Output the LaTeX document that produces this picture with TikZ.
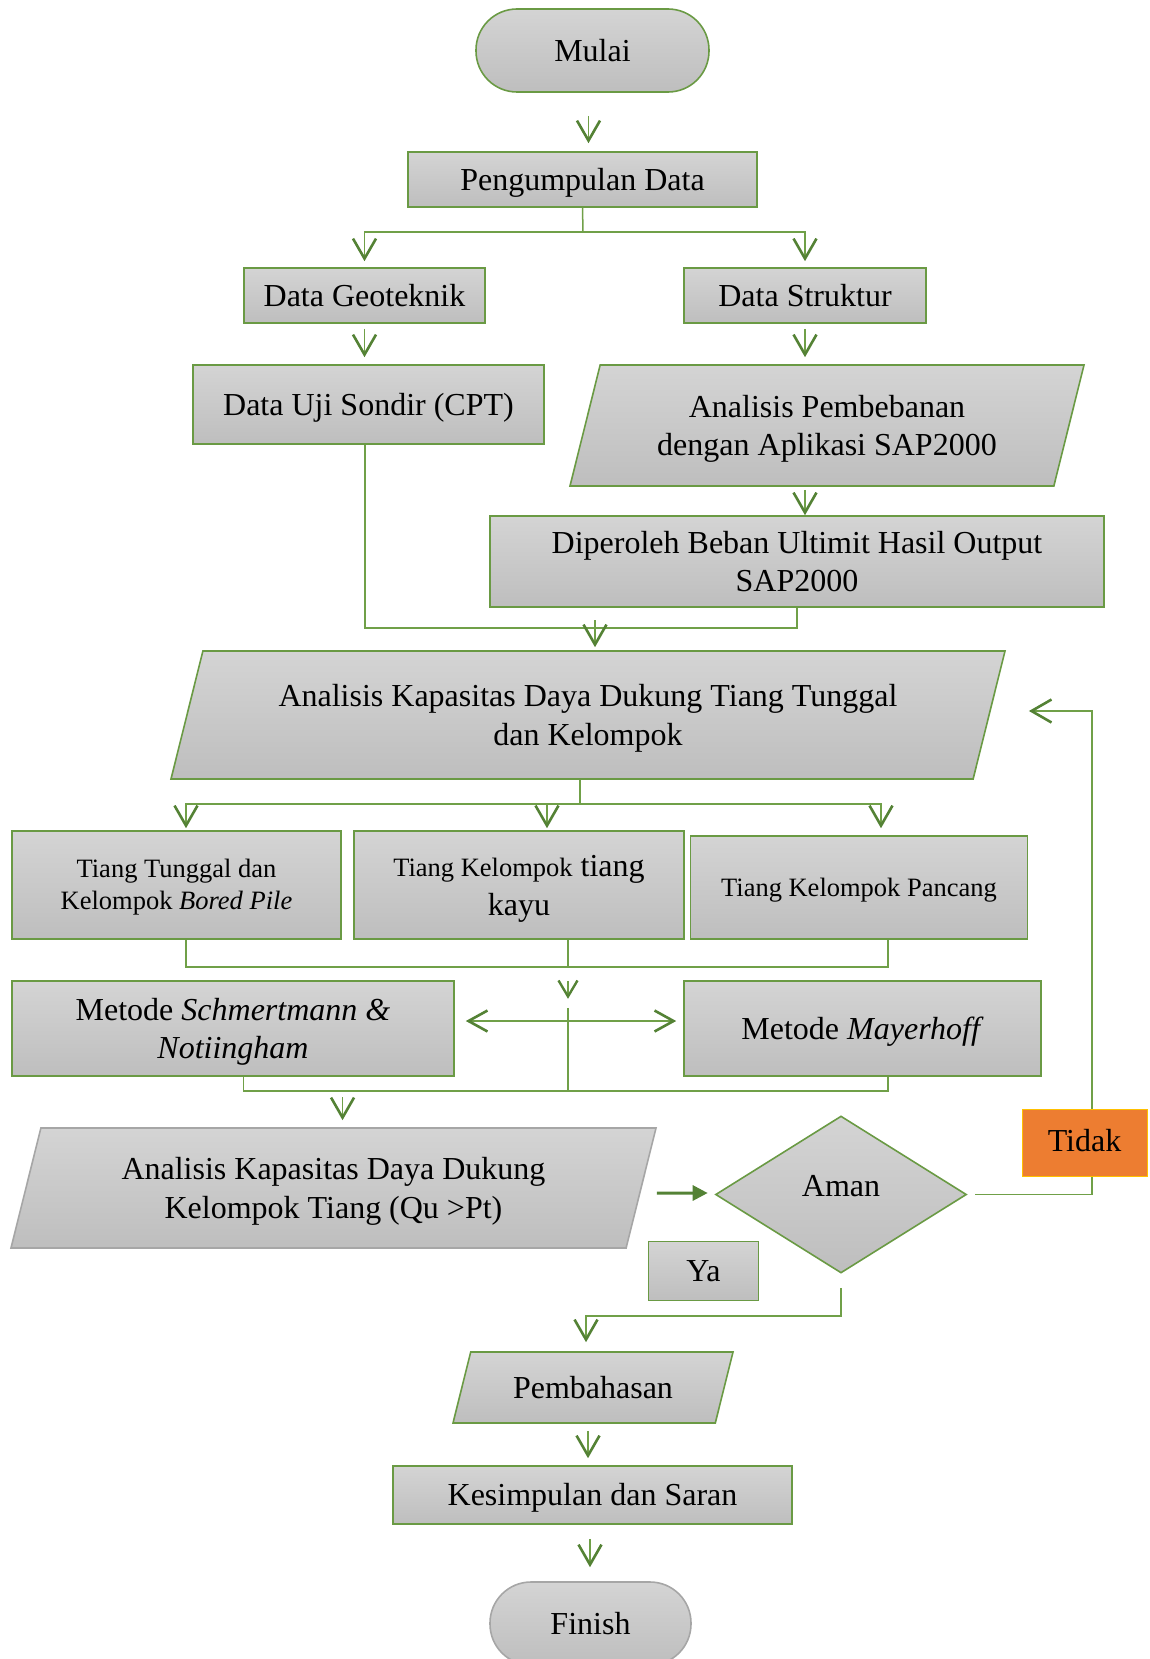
\documentclass[tikz,border=0pt]{standalone}
\usepackage{fontspec}
\setmainfont{Liberation Serif}
\usepackage{tikz}
\usetikzlibrary{arrows.meta,shapes.geometric}

\definecolor{boxline}{HTML}{6A9A44}
\definecolor{linkline}{HTML}{70A048}
\definecolor{arrowgreen}{HTML}{548235}
\definecolor{shadetop}{HTML}{D4D4D4}
\definecolor{shadebot}{HTML}{BEBEBE}
\definecolor{greyline}{HTML}{A6A6A6}
\definecolor{tidakfill}{HTML}{ED7D31}
\definecolor{tidakline}{HTML}{FFC000}

\newcommand{\bigtext}{\fontsize{32}{38.5}\selectfont}
\newcommand{\smalltext}{\fontsize{26.5}{32}\selectfont}
\newcommand{\wordstrut}{\rule[-0.216em]{0pt}{1.107em}}

\tikzset{
  box/.style={rectangle, draw=boxline, line width=1.6pt, top color=shadetop, bottom color=shadebot, inner sep=0pt, align=center, font=\bigtext,
    execute at begin node=\wordstrut, execute at end node=\wordstrut},
  term/.style={box, rounded corners=41pt},
  para/.style={box, trapezium, trapezium left angle=76, trapezium right angle=104, trapezium stretches body},
  decide/.style={box, diamond, aspect=1.6},
  tidak/.style={rectangle, draw=tidakline, line width=1pt, fill=tidakfill, inner sep=0pt, font=\bigtext},
  link/.style={draw=linkline, line width=1.5pt},
  arr/.style={link, -{Straight Barb[length=20pt,width=23pt,line width=2.6pt,color=arrowgreen]}},
  arrsmall/.style={link, -{Straight Barb[length=16pt,width=19pt,line width=2.4pt,color=arrowgreen]}},
  darr/.style={link, {Straight Barb[length=19pt,width=21pt,line width=2.6pt,color=arrowgreen]}-{Straight Barb[length=19pt,width=21pt,line width=2.6pt,color=arrowgreen]}},
  tri/.style={draw=arrowgreen, line width=3pt, -{Triangle[length=15pt,width=15pt]}}
}

\begin{document}
\begin{tikzpicture}[x=1pt,y=-1pt]
\useasboundingbox (0,0) rectangle (1149,1659);
\clip (0,0) rectangle (1149,1659);

\node[term, minimum width=233pt, minimum height=83pt] (mulai) at (592.5,50.5) {Mulai};
\node[box, minimum width=349pt, minimum height=55pt] (pengumpulan) at (582.5,179.5) {Pengumpulan Data};
\node[box, minimum width=241pt, minimum height=55pt] (geoteknik) at (364.5,295.5) {Data Geoteknik};
\node[box, minimum width=242pt, minimum height=55pt] (struktur) at (805,295.5) {Data Struktur};
\node[box, minimum width=351pt, minimum height=79pt] (sondir) at (368.5,404.5) {Data Uji Sondir (CPT)};
\node[para, inner ysep=23.5pt, minimum width=514pt, minimum height=121pt] (pembebanan) at (827,425.5) {\wordstrut Analisis Pembebanan\\dengan Aplikasi SAP2000};
\node[box, minimum width=614pt, minimum height=91pt] (diperoleh) at (797,561.5) {\wordstrut Diperoleh Beban Ultimit Hasil Output\\SAP2000};
\node[para, inner ysep=27pt, minimum width=834pt, minimum height=128pt] (kapasitas) at (588,715) {\wordstrut Analisis Kapasitas Daya Dukung Tiang Tunggal\\dan Kelompok};
\node[box, font=\smalltext, minimum width=329pt, minimum height=108pt] (tunggal) at (176.5,885) {\wordstrut Tiang Tunggal dan\\Kelompok \textit{Bored Pile}};
\node[box, minimum width=330pt, minimum height=108pt] (kayu) at (519,885) {\wordstrut{\smalltext Tiang Kelompok} tiang\\kayu};
\node[box, font=\smalltext, minimum width=337pt, minimum height=103pt] (pancang) at (859,887.5) {Tiang Kelompok Pancang};
\node[box, minimum width=442pt, minimum height=95pt] (schmertmann) at (233,1028.5) {\wordstrut Metode \textit{Schmertmann \&}\\\textit{Notiingham}};
\node[box, minimum width=357pt, minimum height=95pt] (mayerhoff) at (862.5,1028.5) {Metode \textit{Mayerhoff}};
\node[para, draw=greyline, inner ysep=23pt, minimum width=645pt, minimum height=120pt] (kelompok) at (333.5,1188) {\wordstrut Analisis Kapasitas Daya Dukung\\Kelompok Tiang (Qu >Pt)};
\node[decide, text depth=25pt, minimum width=251pt, minimum height=157pt] (aman) at (841,1194.5) {Aman};
\node[box, minimum width=110pt, minimum height=59pt] (ya) at (703.5,1271) {Ya};
\node[para, inner ysep=17.8pt, minimum width=280pt, minimum height=71pt] (pembahasan) at (593,1387.5) {Pembahasan};
\node[box, minimum width=399pt, minimum height=58pt] (kesimpulan) at (592.5,1495) {Kesimpulan dan Saran};
\node[term, draw=greyline, minimum width=201pt, minimum height=83pt] (finish) at (590.5,1623.5) {Finish};

\draw[arr, shorten <=23pt, shorten >=8pt] ([xshift=-4pt]mulai.south) -- ([xshift=-4pt]mulai.south |- pengumpulan.north);
\coordinate (split1) at (583,232);
\draw[link] (pengumpulan.south) -- (split1);
\draw[arr, shorten >=6pt] (split1) -| (geoteknik.north);
\draw[arr, shorten >=6pt] (split1) -| (struktur.north);
\draw[arr, shorten <=5pt, shorten >=7pt] (geoteknik.south) -- (geoteknik.south |- sondir.north);
\draw[arr, shorten <=5pt, shorten >=7pt] (struktur.south) -- (struktur.south |- pembebanan.north);
\draw[arr, shorten <=3pt] (pembebanan.south -| struktur.south) -- (diperoleh.north -| struktur.south);

\draw[link] ([xshift=-3.5pt]sondir.south) -- ++(0,183) -| (diperoleh.south);
\coordinate (join1) at (595,620);
\draw[arr, shorten >=3pt] (join1) -- (join1 |- kapasitas.north);

\coordinate (split2) at (580,804);
\draw[link] (kapasitas.south -| split2) -- (split2);
\draw[arr, shorten >=2pt] (split2) -| ([xshift=9.5pt]tunggal.north);
\draw[arr, shorten >=2pt] (split2) -| ([xshift=28pt]kayu.north);
\draw[arr, shorten >=7pt] (split2) -| ([xshift=22pt]pancang.north);

\draw[link] ([xshift=9.5pt]tunggal.south) -- ++(0,27) -| ([xshift=29pt]pancang.south);
\draw[link] ([xshift=49pt]kayu.south) -- ++(0,27) coordinate (join2);
\draw[arrsmall] ([yshift=-14pt]join2) -- ([yshift=-32pt]join2);
\draw[link] ([yshift=-41pt]join2) -- ([yshift=-124pt]join2);
\draw[darr] ([xshift=11pt,yshift=7.5pt]schmertmann.east) -- ([xshift=-7pt,yshift=7.5pt]mayerhoff.west);
\draw[link] ([xshift=10.5pt]schmertmann.south) -- ++(0,14) -| ([xshift=25.5pt]mayerhoff.south);
\draw[arr] ([xshift=9pt,yshift=30pt]kelompok.north) -- ([xshift=9pt,yshift=7pt]kelompok.north);

\draw[tri, shorten >=7pt] ([xshift=15pt,yshift=-5pt]kelompok.east) -- ([yshift=1.5pt]aman.west);
\draw[arr, shorten >=9pt] ([yshift=-14pt]aman.south) -- ++(0,28) -| ([xshift=-7pt]pembahasan.north);
\draw[arr] ([xshift=8pt]aman.east) -| ([xshift=102pt,yshift=4pt]kapasitas.east) -- ([xshift=39pt,yshift=4pt]kapasitas.east);
\node[tidak, text depth=6pt, minimum width=125pt, minimum height=67pt] (tidak) at (1084.5,1143) {Tidak};

\draw[arr, shorten <=7pt, shorten >=7pt] ([xshift=-5pt]pembahasan.south) -- ([xshift=-5pt]pembahasan.south |- kesimpulan.north);
\draw[arr, shorten <=14pt, shorten >=14pt] ([xshift=-2.5pt]kesimpulan.south) -- ([xshift=-2.5pt]kesimpulan.south |- finish.north);
\end{tikzpicture}
\end{document}
